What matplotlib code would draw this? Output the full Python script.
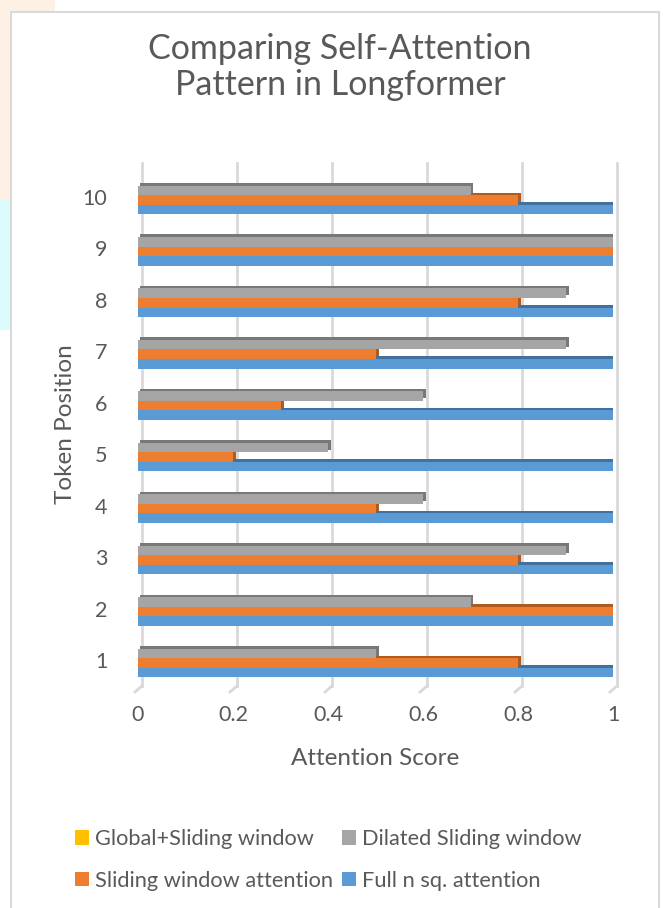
"""Horizontal bar chart of attention scores per token for Longformer attention patterns."""

import matplotlib.pyplot as plt
from matplotlib.patches import Rectangle
import numpy as np

plt.rcParams['font.family'] = ['Lato', 'DejaVu Sans']

tokens = [1, 2, 3, 4, 5, 6, 7, 8, 9, 10]
full_attention = [1, 1, 1, 1, 1, 1, 1, 1, 1, 1]
sliding_window = [0.8, 1.0, 0.8, 0.5, 0.2, 0.3, 0.5, 0.8, 1.0, 0.8]
dilated_sliding = [0.5, 0.7, 0.9, 0.6, 0.4, 0.6, 0.9, 0.9, 1.0, 0.7]
global_sliding = [0, 0, 0, 0, 0, 0, 0, 0, 0, 0]

x_ticks = [0, 0.2, 0.4, 0.6, 0.8, 1]

TEXT = "#595959"
W, H = 663, 908


def main():
    fig = plt.figure(figsize=(W / 100, H / 100), dpi=100)
    fig.patch.set_facecolor("white")

    # faint background bits around the chart frame
    for (x0, y0, w, h, c) in [(0, 0, 11, 200, "#fdf0e4"), (0, 0, 55, 12, "#fdf0e4"),
                              (0, 200, 11, 130, "#dcfcfc")]:
        fig.add_artist(Rectangle((x0 / W, 1 - (y0 + h) / H), w / W, h / H,
                                 transform=fig.transFigure, facecolor=c,
                                 edgecolor="none", zorder=-10))
    # chart frame
    fig.add_artist(Rectangle((11 / W, -0.01), (659 - 11) / W, (908 - 12) / H + 0.01,
                             transform=fig.transFigure, facecolor="white",
                             edgecolor="#d9d9d9", linewidth=1.5, zorder=-5))

    ax = fig.add_axes([138 / W, (H - 686) / H, (613 - 138) / W, (686 - 163) / H])
    ax.set_facecolor("none")
    ax.set_zorder(1)

    px_x = 1 / 475.0      # data units per pixel along x
    px_y = 1 / 51.44      # data units per pixel along y

    # back-wall gridlines with floor ticks
    for v in x_ticks:
        gx = v + 4 * px_x
        ax.plot([gx, gx], [0.5, 10.66], color="#d9d9d9", lw=2, zorder=0, clip_on=False)
        ax.plot([gx, gx - 7 * px_x], [0.5, 0.5 - 6 * px_y], color="#d9d9d9", lw=2,
                zorder=0, clip_on=False)

    y = np.array(tokens, dtype=float)
    h = 0.185
    series = [
        (full_attention, -0.24, "#5b9bd5", "#41719c", "Full n sq. attention"),
        (sliding_window, -0.055, "#ed7d31", "#ae5a21", "Sliding window attention"),
        (dilated_sliding, 0.13, "#a5a5a5", "#787878", "Dilated Sliding window"),
        (global_sliding, 0.315, "#ffc000", "#bc8c00", "Global+Sliding window"),
    ]
    handles = {}
    for vals, off, col, dark, name in series:
        vals = np.array(vals)
        shown = vals > 0
        # depth face drawn slightly behind and up-right
        ax.barh(y[shown] + off + 2.5 * px_y, vals[shown] + px_x, height=h,
                left=2 * px_x, color=dark, zorder=2)
        bars = ax.barh(y + off, vals, height=h, color=col, zorder=3, label=name)
        handles[name] = bars

    ax.set_xlim(0, 1)
    ax.set_ylim(0.5, 10.66)
    ax.set_xticks(x_ticks)
    ax.set_xticklabels([f"{t:g}" for t in x_ticks])
    ax.set_yticks(tokens)
    ax.tick_params(axis="both", length=0, labelsize=15.5, colors=TEXT)
    ax.tick_params(axis="x", pad=14)
    ax.tick_params(axis="y", pad=22)
    for s in ax.spines.values():
        s.set_visible(False)

    ax.set_xlabel("Attention Score", fontsize=17.5, color=TEXT, labelpad=16)
    ax.set_ylabel("Token Position", fontsize=17.5, color=TEXT, labelpad=5)

    fig.text(0.513, 1 - 67 / H, "Comparing Self-Attention\nPattern in Longformer",
             ha="center", va="center", fontsize=24.5, color=TEXT, linespacing=1.18)

    # legend fills column by column
    order = ["Global+Sliding window", "Sliding window attention",
             "Dilated Sliding window", "Full n sq. attention"]
    fig.legend([handles[n] for n in order], order, loc="center",
               bbox_to_anchor=(0.4955, 1 - 860 / H), ncol=2, frameon=False,
               fontsize=15.7, handlelength=0.64, handleheight=0.64,
               handletextpad=0.28, columnspacing=0.4, labelspacing=1.0,
               labelcolor=TEXT)

    fig.savefig("out.png", dpi=100)


if __name__ == "__main__":
    main()
